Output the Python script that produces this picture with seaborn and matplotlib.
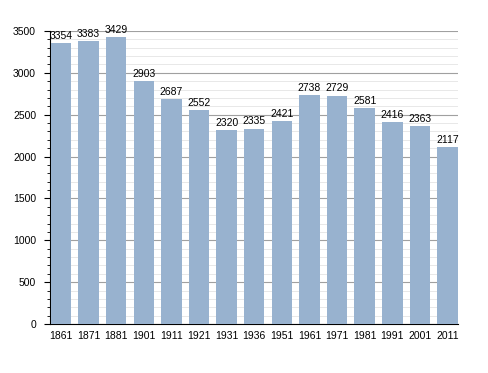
import matplotlib
matplotlib.use("Agg")
import matplotlib.pyplot as plt
import seaborn as sns
import pandas as pd
from matplotlib.ticker import MultipleLocator

years = ["1861", "1871", "1881", "1901", "1911", "1921", "1931", "1936",
         "1951", "1961", "1971", "1981", "1991", "2001", "2011"]
population = [3354, 3383, 3429, 2903, 2687, 2552, 2320, 2335,
              2421, 2738, 2729, 2581, 2416, 2363, 2117]

df = pd.DataFrame({"year": years, "pop": population})

sns.set_style("white")
plt.rcParams["font.family"] = ["Liberation Sans", "DejaVu Sans"]
plt.rcParams["text.color"] = "black"
plt.rcParams["xtick.color"] = "black"
plt.rcParams["ytick.color"] = "black"

fig = plt.figure(figsize=(4.88, 3.73), dpi=100)
ax = fig.add_axes([0.1025, 0.1314, 0.836, 0.7855])

sns.barplot(data=df, x="year", y="pop", color="#98b2cf", saturation=1,
            width=0.74, linewidth=0, ax=ax, zorder=3)

for i, v in enumerate(population):
    ax.text(i, v + 25, str(v), ha="center", va="bottom", fontsize=7.5, zorder=4)

ax.set_xlim(-0.4, 14.38)
ax.set_ylim(0, 3500)
ax.yaxis.set_major_locator(MultipleLocator(500))
ax.yaxis.set_minor_locator(MultipleLocator(100))
ax.grid(which="major", axis="y", color="#a0a0a0", linewidth=0.8, zorder=0)
ax.grid(which="minor", axis="y", color="#e4e4e4", linewidth=0.6, zorder=0)
ax.set_axisbelow(True)

for s in ["top", "right"]:
    ax.spines[s].set_visible(False)
ax.spines["left"].set_color("black")
ax.spines["bottom"].set_color("black")
ax.spines["left"].set_linewidth(0.8)
ax.spines["bottom"].set_linewidth(0.8)

ax.tick_params(axis="y", which="major", left=True, length=4, width=0.8, labelsize=7.5, pad=6)
ax.tick_params(axis="y", which="minor", left=True, length=2.5, width=0.6)
ax.tick_params(axis="x", bottom=False, labelsize=7.5, pad=1.5)
ax.set_xlabel("")
ax.set_ylabel("")

fig.savefig("out.png", dpi=100)
